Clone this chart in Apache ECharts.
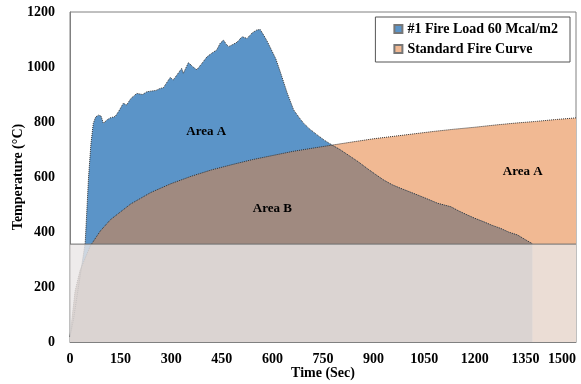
<!DOCTYPE html>
<html>
<head>
<meta charset="utf-8">
<script src="https://cdn.jsdelivr.net/npm/echarts@6/dist/echarts.min.js"></script>
<style>
  html, body { margin: 0; padding: 0; background: #fff; }
  #chart { width: 581px; height: 384px; }
</style>
</head>
<body>
<div id="chart"></div>
<script>
// #1 fire load 60 Mcal/m2, [time (s), temperature (C)]
var fireLoad = [
  [0, 20], [10, 80], [25, 200], [45, 360], [55, 600], [62, 720], [69, 795], [76, 818],
  [84, 825], [92, 822], [99, 795], [109, 807], [119, 815], [134, 820], [145, 840],
  [158, 868], [168, 862], [180, 885], [198, 904], [215, 900], [228, 910], [238, 912],
  [255, 915], [267, 922], [277, 925], [297, 962], [306, 953], [317, 971], [331, 995],
  [336, 977], [351, 1016], [365, 1000], [376, 990], [391, 1013], [406, 1037], [420, 1050],
  [435, 1062], [445, 1086], [455, 1098], [462, 1085], [470, 1074], [480, 1080], [495, 1090],
  [510, 1110], [525, 1104], [540, 1124], [554, 1135], [564, 1136], [574, 1116], [584, 1095],
  [594, 1070], [610, 1030], [624, 980], [644, 905], [663, 844], [680, 815], [693, 795],
  [710, 775], [733, 753], [755, 733], [777, 716], [800, 700], [832, 674], [855, 655],
  [881, 631], [905, 610], [930, 589], [955, 572], [980, 559], [1005, 547], [1030, 535],
  [1060, 520], [1089, 505], [1110, 498], [1129, 492], [1150, 478], [1178, 462], [1200, 450],
  [1227, 437], [1250, 425], [1277, 413], [1300, 400], [1327, 389], [1350, 372], [1370, 358]
];

// standard fire curve, [time (s), temperature (C)]
var standardCurve = [
  [0, 20], [15, 185], [30, 261], [60, 349], [90, 404], [120, 445], [180, 502], [240, 544],
  [300, 576], [360, 603], [420, 626], [480, 645], [540, 663], [600, 678], [660, 693],
  [720, 705], [777, 716], [840, 728], [900, 739], [960, 748], [1020, 757], [1080, 766],
  [1140, 774], [1200, 781], [1260, 789], [1320, 796], [1380, 802], [1440, 809], [1500, 815]
];

var crossTime = 777;      // where the two curves meet
var shadeLevel = 356;     // top of the grey band
var areaLabels = [
  { name: 'Area A', coord: [404, 764] },
  { name: 'Area B', coord: [600, 484] },
  { name: 'Area A', coord: [1342, 618] }
];

// part that lies under both curves
var overlap = standardCurve.filter(function (p) { return p[0] < crossTime; })
  .concat(fireLoad.filter(function (p) { return p[0] >= crossTime; }));

var txt = { fontFamily: 'Liberation Serif', fontWeight: 'bold', color: '#000', fontSize: 14 };
var plain = function (v) { return String(v); };

var chart = echarts.init(document.getElementById('chart'), null, { renderer: 'canvas' });

var option = {
  animation: false,
  grid: {
    left: 70, right: 5, top: 12, bottom: 42,
    containLabel: false,
    outerBoundsMode: 'none',
    show: true, borderColor: '#808080', borderWidth: 1
  },
  legend: {
    orient: 'vertical',
    right: 11, top: 17,
    padding: [5, 12, 6, 18],
    itemGap: 6,
    itemWidth: 8, itemHeight: 8,
    icon: 'rect',
    borderColor: '#555', borderWidth: 1,
    textStyle: txt,
    data: ['#1 Fire Load 60 Mcal/m2', 'Standard Fire Curve']
  },
  xAxis: {
    type: 'value',
    min: 0, max: 1500, interval: 150,
    name: 'Time (Sec)',
    nameLocation: 'middle',
    nameGap: 24,
    nameMoveOverlap: false,
    nameTextStyle: txt,
    axisLine: { lineStyle: { color: '#808080' } },
    axisTick: { show: false },
    splitLine: { show: false },
    axisLabel: Object.assign({ margin: 10, formatter: plain, alignMaxLabel: 'right' }, txt)
  },
  yAxis: {
    type: 'value',
    min: 0, max: 1200, interval: 200,
    name: 'Temperature (°C)',
    nameLocation: 'middle',
    nameGap: 45,
    nameMoveOverlap: false,
    nameTextStyle: txt,
    axisLine: { show: true, lineStyle: { color: '#808080' } },
    axisTick: { show: false },
    splitLine: { show: false },
    axisLabel: Object.assign({ margin: 15, formatter: plain }, txt)
  },
  series: [
    {
      name: 'Standard Fire Curve',
      type: 'line',
      data: standardCurve,
      showSymbol: false,
      lineStyle: { width: 0 },
      itemStyle: { color: '#f1b993', borderColor: '#777', borderType: 'dotted', borderWidth: 1 },
      areaStyle: { color: '#f1b993', opacity: 1 },
      z: 2
    },
    {
      name: '#1 Fire Load 60 Mcal/m2',
      type: 'line',
      data: fireLoad,
      showSymbol: false,
      lineStyle: { width: 0 },
      itemStyle: { color: '#5b94c8', borderColor: '#777', borderType: 'dotted', borderWidth: 1 },
      areaStyle: { color: '#5b94c8', opacity: 1 },
      z: 3
    },
    {
      name: 'overlap',
      type: 'line',
      data: overlap,
      showSymbol: false,
      lineStyle: { width: 0 },
      areaStyle: { color: '#a08a80', opacity: 1 },
      z: 4,
      markPoint: {
        symbol: 'circle', symbolSize: 0,
        label: Object.assign({ show: true, position: 'inside',
          formatter: function (p) { return p.name; } }, txt, { fontSize: 13 }),
        data: areaLabels
      }
    },
    {
      type: 'line',
      data: standardCurve,
      showSymbol: false,
      lineStyle: { color: '#333', width: 1, type: 'dotted' },
      z: 5
    },
    {
      type: 'line',
      data: fireLoad,
      showSymbol: false,
      lineStyle: { color: '#333', width: 1, type: 'dotted' },
      z: 5
    },
    {
      type: 'line',
      data: [[0, shadeLevel], [1500, shadeLevel]],
      showSymbol: false,
      lineStyle: { color: '#6e6e6e', width: 1 },
      areaStyle: { color: 'rgba(234,230,230,0.8)', opacity: 1 },
      z: 6
    }
  ]
};

chart.setOption(option);
</script>
</body>
</html>
